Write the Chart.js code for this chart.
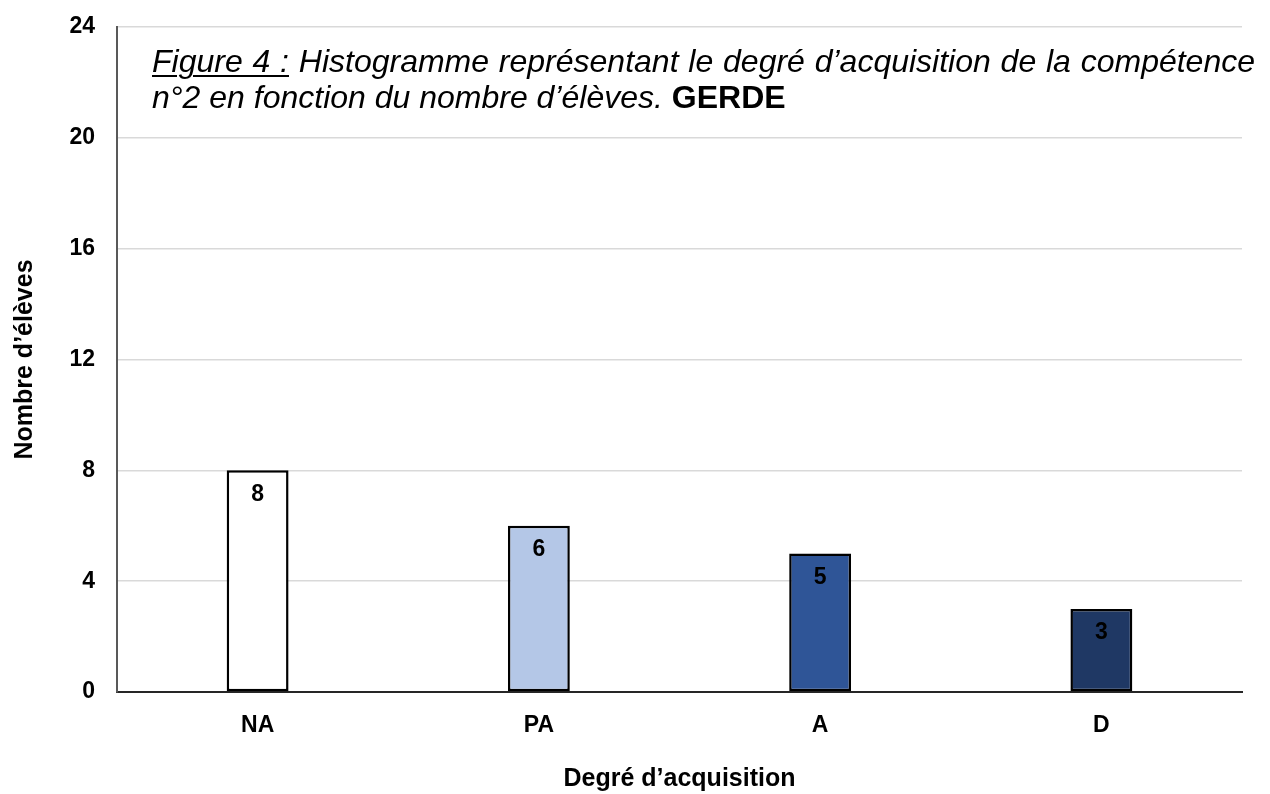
<!DOCTYPE html>
<html>
<head>
<meta charset="utf-8">
<script src="https://cdn.jsdelivr.net/npm/chart.js@4.4.1/dist/chart.umd.min.js"></script>
<style>
  html, body { margin: 0; padding: 0; background: #fff; }
  #wrap { position: relative; width: 1270px; height: 794px; overflow: hidden; }
  #c { position: absolute; left: 0; top: 0; }
  .cap { position: absolute; left: 152px; font-family: "Liberation Sans", Arial, sans-serif;
         font-size: 32px; line-height: 36px; font-style: italic; color: #000; white-space: nowrap; }
  #cap1 { top: 43px; width: 1103px; text-align: justify; text-align-last: justify; }
  #cap2 { top: 79px; }
  .u { text-decoration: underline; text-decoration-thickness: 2px; text-underline-offset: 3px; }
  .b { font-weight: bold; font-style: normal; }
</style>
</head>
<body>
<div id="wrap">
  <canvas id="c" width="1270" height="794"></canvas>
  <div class="cap" id="cap1"><span class="u">Figure 4 :</span> Histogramme représentant le degré d’acquisition de la compétence</div>
  <div class="cap" id="cap2">n°2 en fonction du nombre d’élèves. <span class="b">GERDE</span></div>
</div>
<script>
const categories = ["NA", "PA", "A", "D"];
const values = [8, 6, 5, 3];
const barColors = ["#FFFFFF", "#B4C7E7", "#2F5597", "#1F3864"];
const yTickValues = [0, 4, 8, 12, 16, 20, 24];
const xTitle = "Degré d’acquisition";
const yTitle = "Nombre d’élèves";

const FONT = '"Liberation Sans", Arial, sans-serif';

const valueLabels = {
  id: 'valueLabels',
  afterDatasetsDraw(chart) {
    const ctx = chart.ctx;
    const meta = chart.getDatasetMeta(0);
    ctx.save();
    ctx.font = 'bold 23px ' + FONT;
    ctx.fillStyle = '#000';
    ctx.textAlign = 'center';
    ctx.textBaseline = 'middle';
    meta.data.forEach((bar, i) => {
      ctx.fillText(String(chart.data.datasets[0].data[i]), bar.x, bar.y + 24);
    });
    ctx.restore();
  }
};

new Chart(document.getElementById('c'), {
  type: 'bar',
  data: {
    labels: categories,
    datasets: [{
      data: values,
      backgroundColor: barColors,
      borderColor: '#000',
      borderWidth: 2.5,
      borderSkipped: false,
      barPercentage: 0.22,
      categoryPercentage: 1.0
    }]
  },
  options: {
    responsive: false,
    animation: false,
    devicePixelRatio: 1,
    layout: { padding: { top: 27, right: 28, left: 0, bottom: 0 } },
    plugins: {
      legend: { display: false },
      tooltip: { enabled: false },
      title: { display: false }
    },
    scales: {
      x: {
        afterFit(s) { s.height = 102; },
        grid: { display: false, drawTicks: false },
        border: { display: true, color: '#262626', width: 2 },
        ticks: { color: '#000', font: { family: FONT, size: 23, weight: 'bold' }, padding: 20 },
        title: { display: true, text: xTitle, color: '#000',
                 font: { family: FONT, size: 25, weight: 'bold' }, padding: { top: 0, bottom: 0 } }
      },
      y: {
        min: 0, max: 24,
        afterFit(s) { s.width = 117; s.paddingTop = 10; s.paddingBottom = 10; },
        afterBuildTicks(s) { s.ticks = yTickValues.map(v => ({ value: v })); },
        grid: { color: '#d9d9d9', lineWidth: 1.5, drawTicks: false },
        border: { display: true, color: '#595959', width: 2 },
        ticks: { color: '#000', font: { family: FONT, size: 23, weight: 'bold' }, padding: 22 },
        title: { display: true, text: yTitle, color: '#000',
                 font: { family: FONT, size: 25, weight: 'bold' }, padding: { top: 10, bottom: 0 } }
      }
    }
  },
  plugins: [valueLabels]
});
</script>
</body>
</html>
